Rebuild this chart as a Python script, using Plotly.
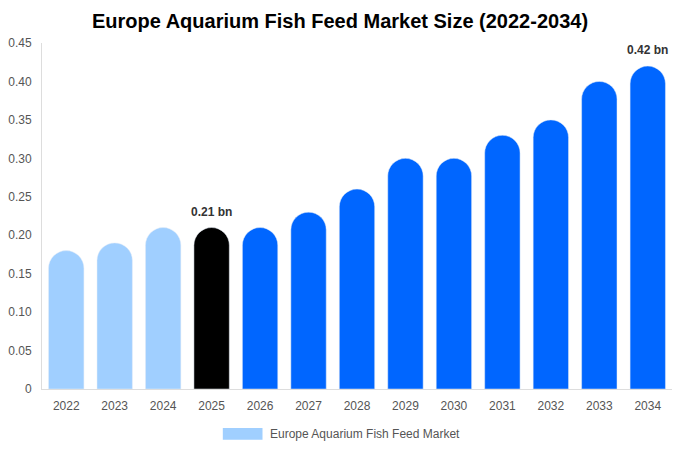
import plotly.graph_objects as go

# Данные графика
YEARS = ["2022", "2023", "2024", "2025", "2026", "2027", "2028",
         "2029", "2030", "2031", "2032", "2033", "2034"]
MARKET_SIZE = [0.18, 0.19, 0.21, 0.21, 0.21, 0.23, 0.26,
               0.30, 0.30, 0.33, 0.35, 0.40, 0.42]
BAR_COLORS = ["#a0cfff"] * 3 + ["#000000"] + ["#0066ff"] * 9
Y_TICKS = [0, 0.05, 0.10, 0.15, 0.20, 0.25, 0.30, 0.35, 0.40, 0.45]
Y_TICK_LABELS = ["0", "0.05", "0.10", "0.15", "0.20", "0.25",
                 "0.30", "0.35", "0.40", "0.45"]
LABELED = {"2025": "0.21 bn", "2034": "0.42 bn"}
SERIES_NAME = "Europe Aquarium Fish Feed Market"

fig = go.Figure()

fig.add_trace(
    go.Bar(
        x=YEARS,
        y=MARKET_SIZE,
        name=SERIES_NAME,
        marker=dict(color=BAR_COLORS, cornerradius="50%"),
        showlegend=False,
    )
)

# --- Подписи над столбцами (x — индекс категории) ---
for year, text in LABELED.items():
    i = YEARS.index(year)
    fig.add_annotation(
        x=i,
        y=MARKET_SIZE[i],
        text=f"<b>{text}</b>",
        showarrow=False,
        yanchor="bottom",
        yshift=7,
        font=dict(size=12, color="#333333"),
    )

# --- Легенда вручную: широкий прямоугольник + подпись ---
fig.add_shape(
    type="rect",
    xref="paper",
    yref="paper",
    x0=0.287,
    x1=0.350,
    y0=-0.147,
    y1=-0.113,
    fillcolor=BAR_COLORS[0],
    line=dict(width=0),
)
fig.add_annotation(
    xref="paper",
    yref="paper",
    x=0.358,
    y=-0.130,
    xanchor="left",
    yanchor="middle",
    text=SERIES_NAME,
    showarrow=False,
    font=dict(size=12, color="#555555"),
)

fig.update_xaxes(
    type="category",
    range=[-0.5, len(YEARS) - 0.5],
    showline=True,
    linecolor="#dddddd",
    linewidth=1,
    ticks="",
    ticklabelstandoff=6,
    tickfont=dict(size=12, color="#555555"),
)
fig.update_yaxes(
    range=[0, 0.45],
    tickvals=Y_TICKS,
    ticktext=Y_TICK_LABELS,
    showgrid=False,
    zeroline=False,
    showline=True,
    linecolor="#dddddd",
    linewidth=1,
    ticklabelstandoff=7,
    tickfont=dict(size=12, color="#555555"),
)

fig.update_layout(
    title=dict(
        text="<b>Europe Aquarium Fish Feed Market Size (2022-2034)</b>",
        font=dict(size=20, color="#000000"),
        x=0.5,
        xanchor="center",
        y=0.970,
        yanchor="middle",
    ),
    margin=dict(l=30, r=0, t=35, b=53),
    bargap=0.27,
    plot_bgcolor="white",
    paper_bgcolor="white",
    font=dict(family="Liberation Sans, Arial", color="#555555"),
    showlegend=False,
)

fig.write_html("out.html")
